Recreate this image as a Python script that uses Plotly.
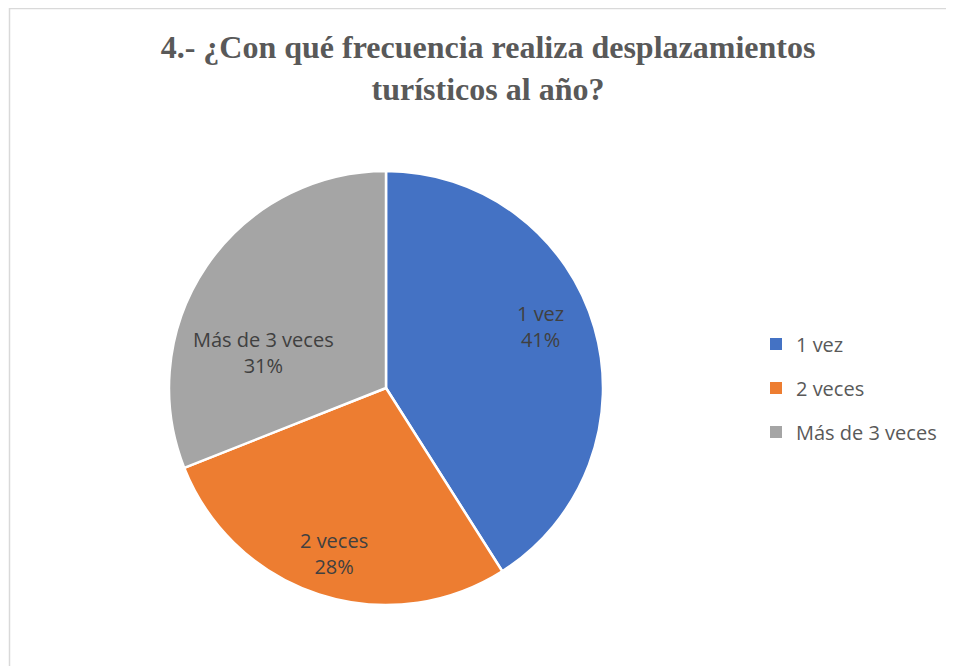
import math
import plotly.graph_objects as go

categorias = ["1 vez", "2 veces", "Más de 3 veces"]
porcentajes = [41, 28, 31]
colores = ["#4472C4", "#ED7D31", "#A5A5A5"]

# la página tiene 8 px de margen en el body: se trabaja en coordenadas de figura
W, H = 946, 658
CX, CY, R = 378, 380, 217  # centro y radio del pastel (px de figura)

# colocación de las etiquetas: fracción del radio y desvío angular (grados)
etiqueta_radio = [0.765, 0.80, 0.587]
etiqueta_desvio = [-5.7, -0.6, -17.8]

fig = go.Figure()
fig.add_trace(go.Pie(
    labels=categorias,
    values=porcentajes,
    sort=False,
    direction="clockwise",
    rotation=0,
    marker=dict(colors=colores, line=dict(color="white", width=2.5)),
    textinfo="none",
    domain=dict(x=[(CX - R) / W, (CX + R) / W], y=[1 - (CY + R) / H, 1 - (CY - R) / H]),
    hoverinfo="label+percent",
    showlegend=False,
))

# etiquetas de datos en el ángulo medio de cada sector
total = sum(porcentajes)
acum = 0
for cat, v, fr, dv in zip(categorias, porcentajes, etiqueta_radio, etiqueta_desvio):
    medio = (acum + v / 2) / total * 360 + dv
    acum += v
    a = math.radians(medio)
    px = CX + fr * R * math.sin(a)
    py = CY - fr * R * math.cos(a)
    fig.add_annotation(
        x=px / W, y=1 - py / H, xref="paper", yref="paper",
        text=f"{cat}<br>{round(v / total * 100)}%",
        showarrow=False, xanchor="center", yanchor="middle",
        font=dict(family="Open Sans", size=20, color="#404040"),
    )

# leyenda propia para controlar la separación entre entradas
for i, (cat, col) in enumerate(zip(categorias, colores)):
    fig.add_trace(go.Scatter(
        x=[None], y=[None], mode="markers", name=cat,
        marker=dict(symbol="square", size=9, color=col),
        legendgroup=f"g{i}", showlegend=True,
    ))

fig.update_layout(
    width=W, height=H,
    margin=dict(l=0, r=0, t=0, b=0),
    paper_bgcolor="white",
    plot_bgcolor="white",
    xaxis=dict(visible=False),
    yaxis=dict(visible=False),
    title=dict(
        text="<b>4.- ¿Con qué frecuencia realiza desplazamientos<br>turísticos al año?</b>",
        x=480 / W, xanchor="center",
        y=1 - 50 / H, yanchor="middle",
        font=dict(family="Liberation Serif", size=32, color="#595959"),
    ),
    legend=dict(
        x=748 / W, xanchor="left",
        y=1 - 380 / H, yanchor="middle",
        font=dict(family="Open Sans", size=20, color="#595959"),
        tracegroupgap=15,
        itemsizing="constant",
    ),
    shapes=[dict(
        type="rect", xref="paper", yref="paper",
        x0=1.5 / W, x1=1.2, y0=-0.2, y1=1 - 0.5 / H,
        line=dict(color="#D9D9D9", width=1.5),
        fillcolor="rgba(0,0,0,0)",
    )],
)

fig.write_html("out.html")
